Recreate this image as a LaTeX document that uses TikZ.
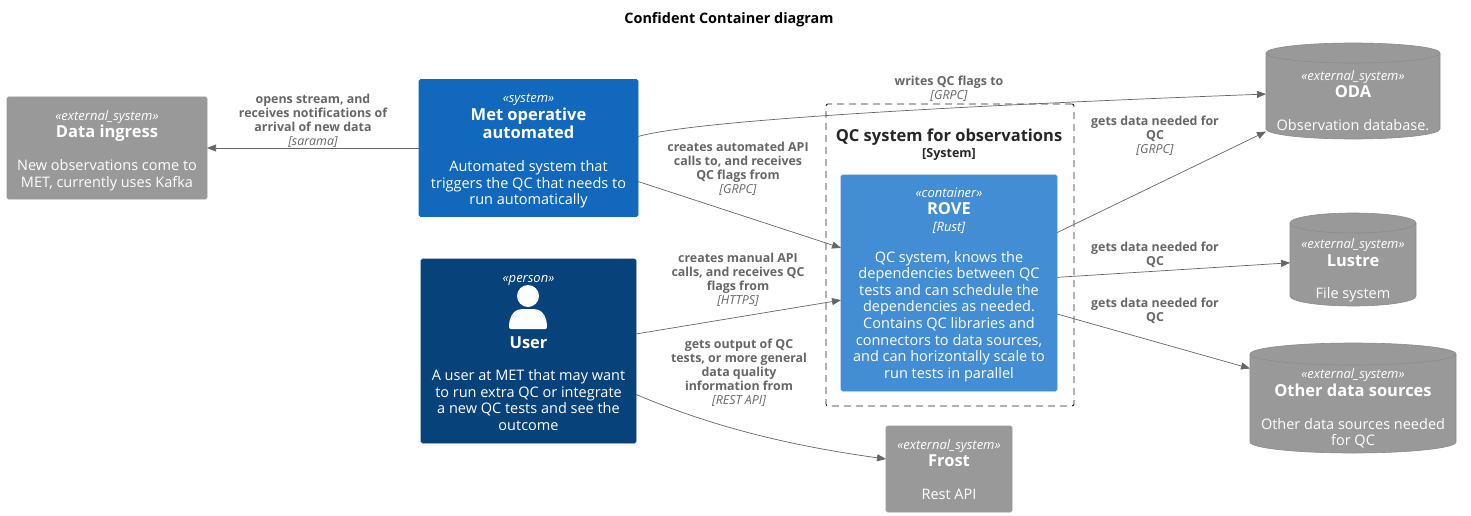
\documentclass[tikz,border=0pt]{standalone}
\usepackage{fontspec}
\setmainfont{Open Sans}
\usetikzlibrary{arrows.meta,calc}

\definecolor{metblue}{RGB}{17,104,189}
\definecolor{userblue}{RGB}{8,66,123}
\definecolor{roveblue}{RGB}{67,141,213}
\definecolor{extgrey}{RGB}{153,153,153}
\definecolor{extedge}{RGB}{138,138,138}
\definecolor{linkgrey}{RGB}{102,102,102}
\definecolor{bordergrey}{RGB}{38,38,38}

\newcommand{\stereo}[2][15pt]{{\fontsize{13}{14}\selectfont\itshape\rule{0pt}{#1}«#2»}}
\newcommand{\ttl}[1]{{\fontsize{16.5}{19}\selectfont\bfseries #1}}
\newcommand{\tech}[1]{{\mdseries\itshape [#1]}}
% node name, half width, end radius
\newcommand{\barrelshape}[3]{%
  \draw[barrel] ($(#1.north west)+(0,#3)$) arc[start angle=180, end angle=0, x radius=#2pt, y radius=#3pt]
    -- ($(#1.south east)+(0,-#3)$) arc[start angle=0, end angle=-180, x radius=#2pt, y radius=#3pt] -- cycle;
  \draw[barrel, fill=none] ($(#1.north west)+(0,#3)$) arc[start angle=180, end angle=360, x radius=#2pt, y radius=#3pt];
}

\begin{document}
\begin{tikzpicture}[
  x=1pt, y=-1pt,
  every node/.style={inner sep=0pt, outer sep=0pt},
  card/.style={draw=#1, fill=#1, rounded corners=1.5pt, line width=0.6pt, text=white, align=center,
    font=\fontsize{14.5}{16.6}\selectfont},
  barrel/.style={draw=extedge, fill=extgrey, line width=0.6pt},
  barreltext/.style={text=white, align=center, font=\fontsize{14.5}{16.6}\selectfont},
  arr/.style={-{Triangle[length=9pt,width=7pt]}, draw=linkgrey, line width=0.7pt},
  lbl/.style={align=center, text=linkgrey, font=\fontsize{12.4}{14}\selectfont\bfseries}
]
\useasboundingbox (0,0) rectangle (1471,516);

% Title
\node[font=\fontsize{14.4}{16}\selectfont\bfseries] (title) at (729,20) {Confident Container diagram};

% Boundary
\node[draw=bordergrey, dash pattern=on 7pt off 5pt, rounded corners=2pt, line width=0.9pt, minimum width=248pt, minimum height=302pt] (qc) at (950,255) {};
\node[text=bordergrey, font=\fontsize{16.5}{19}\selectfont\bfseries] (qctitle) at (949,137) {QC system for observations};
\node[text=bordergrey, font=\fontsize{12.5}{14}\selectfont\bfseries] (qcsub) at (949,154) {[System]};

% Left and centre boxes
\node[card=extgrey, minimum width=200pt, minimum height=102pt] (ingress) at (107,148)
  {\stereo{external\_system}\\[1pt]\ttl{Data ingress}\\[16pt]New observations come to\\MET, currently uses Kafka};
\node[card=metblue, minimum width=219pt, minimum height=137pt] (met) at (528.5,148)
  {\stereo{system}\\[1pt]\ttl{Met operative}\\[2pt]\ttl{automated}\\[16pt]Automated system that\\triggers the QC that needs to\\run automatically};
\node[card=userblue, minimum width=215pt, minimum height=184pt] (user) at (528.5,351)
  {\stereo[11pt]{person}\\[49pt]\ttl{User}\\[16pt]A user at MET that may want\\to run extra QC or integrate\\a new QC tests and see the\\outcome};
\node[card=roveblue, minimum width=216pt, minimum height=216pt] (rove) at (949,283)
  {\stereo[13pt]{container}\\[1pt]\ttl{ROVE}\\{\fontsize{13}{14}\selectfont\itshape [Rust]}\\[14pt]QC system, knows the\\dependencies between QC\\tests and can schedule the\\dependencies as needed.\\Contains QC libraries and\\connectors to data sources,\\and can horizontally scale to\\run tests in parallel};
\node[card=extgrey, minimum width=126pt, minimum height=86pt] (frost) at (949,469)
  {\stereo[11pt]{external\_system}\\[1pt]\ttl{Frost}\\[16pt]Rest API};

% Person icon
\fill[white] (user.north) ++(-0.5,37) circle (11);
\fill[white] (509,327) .. controls (509,314) and (516,309) .. (522,309) -- (534,309)
  .. controls (540,309) and (547,314) .. (547,327) .. controls (547,328.5) and (546,329) .. (545,329)
  -- (511,329) .. controls (510,329) and (509,328.5) .. (509,327) -- cycle;

% Databases
\node[minimum width=174pt, minimum height=96pt] (oda) at (1353,91) {};
\barrelshape{oda}{87}{10}
\node[barreltext] (odatext) at (1353,100)
  {\stereo[11pt]{external\_system}\\[1pt]\ttl{ODA}\\[16pt]Observation database.};
\node[minimum width=126pt, minimum height=93pt] (lustre) at (1353,259.5) {};
\barrelshape{lustre}{63}{10}
\node[barreltext] (lustretext) at (1353,270)
  {\stereo[11pt]{external\_system}\\[1pt]\ttl{Lustre}\\[16pt]File system};
\node[minimum width=206pt, minimum height=110pt] (other) at (1353,398) {};
\barrelshape{other}{103}{11}
\node[barreltext] (othertext) at (1353,408)
  {\stereo[11pt]{external\_system}\\[1pt]\ttl{Other data sources}\\[16pt]Other data sources needed\\for QC};

% Connectors
\draw[arr] (met.west) -- (ingress.east);
\draw[arr] (met.-17.2) -- (rove.162);
\draw[arr] (user.9.5) -- (rove.189);
\draw[arr] (user.-22.7) .. controls (720,430) and (800,447) .. (frost.171.9);
\draw[arr] (met.6.9) .. controls (690,122) and (900,108) .. (oda.182);
\draw[arr] (rove.25.3) -- (oda.205.2);
\draw[arr] (rove.3.7) -- (lustre.183.2);
\draw[arr] (rove.-16) -- (other.164.3);

% Connector labels
\node[lbl] (l1) at (313,121) {opens stream, and\\receives notifications of\\arrival of new data\\\tech{sarama}};
\node[lbl] (l2) at (738,169) {creates automated API\\calls to, and receives\\QC flags from\\\tech{GRPC}};
\node[lbl] (l3) at (738,280) {creates manual API\\calls, and receives QC\\flags from\\\tech{HTTPS}};
\node[lbl] (l4) at (739,373) {gets output of QC\\tests, or more general\\data quality\\information from\\\tech{REST API}};
\node[lbl] (l5) at (949,89) {writes QC flags to\\\tech{GRPC}};
\node[lbl] (l6) at (1155,136) {gets data needed for\\QC\\\tech{GRPC}};
\node[lbl] (l7) at (1155,255) {gets data needed for\\QC};
\node[lbl] (l8) at (1155,311) {gets data needed for\\QC};

\end{tikzpicture}
\end{document}
